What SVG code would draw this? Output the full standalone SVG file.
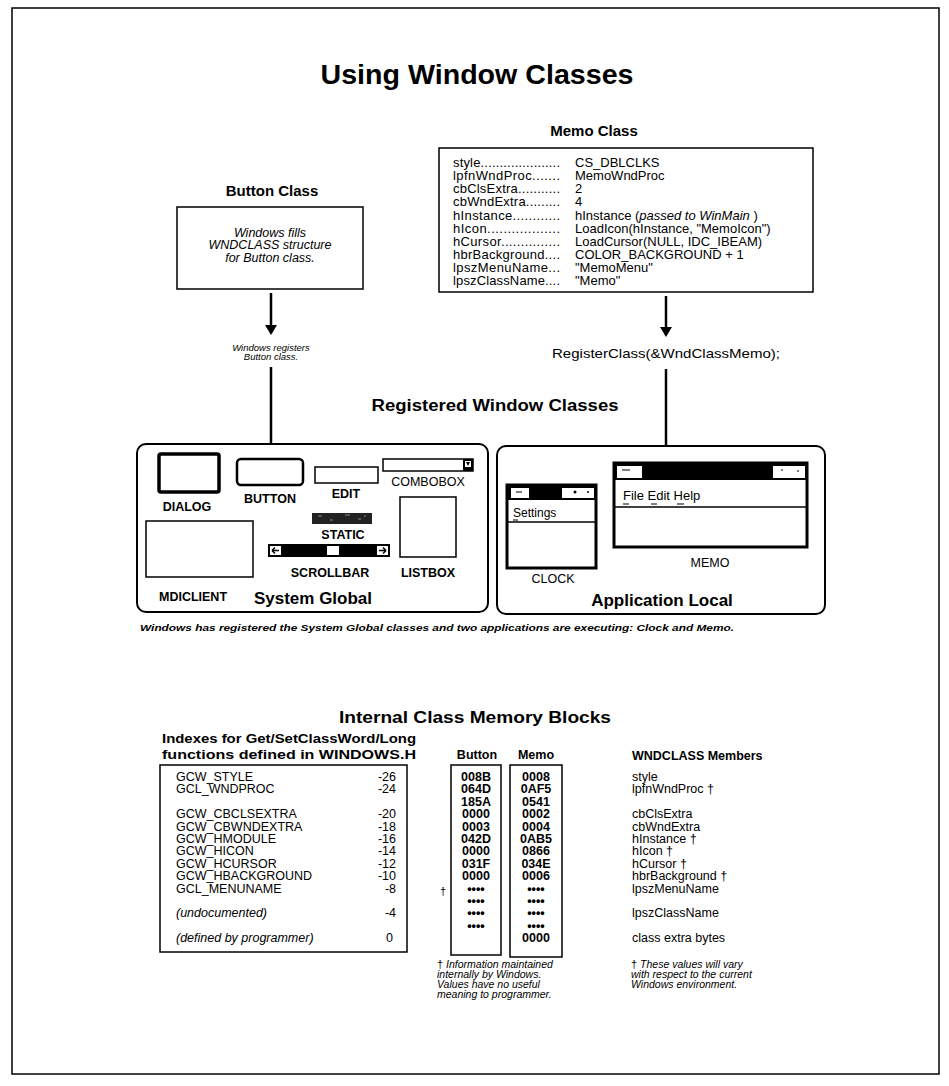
<svg xmlns="http://www.w3.org/2000/svg" width="949" height="1086" viewBox="0 0 949 1086">
<style>
text{font-family:"Liberation Sans",Arial,sans-serif;fill:#000}
.b{font-weight:bold}
.i{font-style:italic}
.c{text-anchor:middle}
.e{text-anchor:end}
.box{fill:#fff;stroke:#000;stroke-width:1.5}
.panel{fill:#fff;stroke:#000;stroke-width:2}
.conn{stroke:#000;stroke-width:2.5;fill:none;marker-end:url(#ah)}
.mb{font-size:13px}
.tb{font-size:12.5px}
.lbl{font-size:12.5px}
.fn{font-size:10.5px;font-style:italic}
</style>
<defs>
<marker id="ah" markerWidth="12" markerHeight="12" refX="8" refY="6" orient="auto" markerUnits="userSpaceOnUse">
<path d="M0,0 L10,6 L0,12 z" fill="#000"/>
</marker>
</defs>
<rect x="12" y="8" width="927" height="1066" fill="#fff" stroke="#000" stroke-width="1.5"/>
<text class="b c" x="477" y="84" font-size="27" textLength="313" lengthAdjust="spacingAndGlyphs">Using  Window  Classes</text>

<g id="button-class">
<text class="b c" x="272" y="196" font-size="15">Button  Class</text>
<rect class="box" x="177" y="207" width="186" height="82"/>
<text class="i c" x="270" y="237" font-size="12.5">Windows fills</text>
<text class="i c" x="270" y="249" font-size="12.5">WNDCLASS structure</text>
<text class="i c" x="270" y="262" font-size="12.5">for Button class.</text>
</g>

<g id="memo-class">
<text class="b c" x="594" y="136" font-size="15">Memo  Class</text>
<rect class="box" x="439" y="148" width="374" height="144"/>
<g class="mb">
<text x="453" y="167" textLength="107" lengthAdjust="spacing">style.....................</text>
<text x="453" y="180" textLength="107" lengthAdjust="spacing">lpfnWndProc.......</text>
<text x="453" y="193" textLength="107" lengthAdjust="spacing">cbClsExtra...........</text>
<text x="453" y="206" textLength="107" lengthAdjust="spacing">cbWndExtra.........</text>
<text x="453" y="220" textLength="107" lengthAdjust="spacing">hInstance............</text>
<text x="453" y="233" textLength="107" lengthAdjust="spacing">hIcon..................</text>
<text x="453" y="246" textLength="107" lengthAdjust="spacing">hCursor...............</text>
<text x="453" y="259" textLength="107" lengthAdjust="spacing">hbrBackground....</text>
<text x="453" y="272" textLength="107" lengthAdjust="spacing">lpszMenuName...</text>
<text x="453" y="285" textLength="107" lengthAdjust="spacing">lpszClassName....</text>
<text x="575" y="167">CS_DBLCLKS</text>
<text x="575" y="180">MemoWndProc</text>
<text x="575" y="193">2</text>
<text x="575" y="206">4</text>
<text x="575" y="220">hInstance  (<tspan font-style="italic">passed to WinMain</tspan> )</text>
<text x="575" y="233">LoadIcon(hInstance,  "MemoIcon")</text>
<text x="575" y="246">LoadCursor(NULL,  IDC_IBEAM)</text>
<text x="575" y="259">COLOR_BACKGROUND  +  1</text>
<text x="575" y="272">"MemoMenu"</text>
<text x="575" y="285">"Memo"</text>
</g>
</g>

<g id="connectors">
<line class="conn" x1="271" y1="293" x2="271" y2="333"/>
<line class="conn" x1="271" y1="367" x2="271" y2="454"/>
<line class="conn" x1="666" y1="296" x2="666" y2="335"/>
<line class="conn" x1="666" y1="369" x2="666" y2="455"/>
</g>

<g id="labels-mid">
<text class="i c" x="271" y="351" font-size="9.5">Windows registers</text>
<text class="i c" x="271" y="360" font-size="9.5">Button class.</text>
<text class="c" x="666" y="358" font-size="13" textLength="228" lengthAdjust="spacingAndGlyphs">RegisterClass(&amp;WndClassMemo);</text>
<text class="b c" x="495" y="411" font-size="16" textLength="247" lengthAdjust="spacingAndGlyphs">Registered  Window  Classes</text>
</g>

<g id="system-global">
<rect class="panel" x="137" y="444" width="351" height="168" rx="9"/>
<rect x="159" y="454" width="60" height="38" rx="2" fill="#fff" stroke="#000" stroke-width="3.5"/>
<text class="b c lbl" x="187" y="511">DIALOG</text>
<rect x="237" y="459" width="66" height="26" rx="4" fill="#fff" stroke="#000" stroke-width="2.5"/>
<text class="b c lbl" x="270" y="503">BUTTON</text>
<rect x="315" y="467" width="63" height="16" fill="#fff" stroke="#000" stroke-width="1.5"/>
<text class="b c lbl" x="346" y="498">EDIT</text>
<rect x="383" y="459" width="90" height="12" fill="#fff" stroke="#000" stroke-width="1.5"/>
<rect x="463" y="459" width="10" height="12" fill="#000"/>
<rect x="465" y="461" width="6" height="6" fill="#fff"/>
<path d="M466,462 L470,462 L468,466 z" fill="#000"/>
<text class="c lbl" x="428" y="486">COMBOBOX</text>
<rect x="312" y="513" width="60" height="11" fill="#222"/>
<path d="M318,516 h4 M330,520 h3 M345,515 h5 M358,519 h3 M364,516 h2" stroke="#888" stroke-width="1"/>
<text class="b c lbl" x="343" y="539">STATIC</text>
<rect x="400" y="497" width="56" height="60" fill="#fff" stroke="#000" stroke-width="1.5"/>
<text class="b c lbl" x="428" y="577">LISTBOX</text>
<rect x="146" y="521" width="107" height="56" fill="#fff" stroke="#000" stroke-width="1.5"/>
<text class="b c lbl" x="193" y="601">MDICLIENT</text>
<rect x="268" y="544" width="122" height="13" fill="#000"/>
<rect x="270" y="546" width="11" height="9" fill="#fff"/>
<path d="M279,550.5 h-7 M272,550.5 l3,-3 M272,550.5 l3,3" stroke="#000" stroke-width="1.5" fill="none"/>
<rect x="377" y="546" width="11" height="9" fill="#fff"/>
<path d="M379,550.5 h7 M386,550.5 l-3,-3 M386,550.5 l-3,3" stroke="#000" stroke-width="1.5" fill="none"/>
<rect x="327" y="546" width="12" height="9" fill="#fff"/>
<text class="b c lbl" x="330" y="577">SCROLLBAR</text>
<text class="b c" x="313" y="604" font-size="17">System  Global</text>
</g>

<g id="application-local">
<rect class="panel" x="497" y="446" width="328" height="168" rx="9"/>
<rect x="507" y="485" width="89" height="83" fill="#fff" stroke="#000" stroke-width="3"/>
<rect x="507" y="485" width="89" height="15" fill="#000"/>
<rect x="511" y="488" width="18" height="10" fill="#fff"/>
<path d="M516,492 h6" stroke="#000" stroke-width="1"/>
<rect x="562" y="488" width="32" height="10" fill="#fff"/>
<circle cx="575" cy="492" r="1.5" fill="#000"/><circle cx="588" cy="492" r="1" fill="#000"/>
<text x="513" y="517" font-size="12">Settings</text>
<path d="M513,520 h5" stroke="#000" stroke-width="1"/>
<line x1="507" y1="522" x2="596" y2="522" stroke="#000" stroke-width="1.5"/>
<text class="c lbl" x="553" y="583">CLOCK</text>
<rect x="614" y="463" width="193" height="84" fill="#fff" stroke="#000" stroke-width="3"/>
<rect x="614" y="463" width="193" height="17" fill="#000"/>
<rect x="617" y="466" width="25" height="12" fill="#fff"/>
<path d="M622,470 h8" stroke="#000" stroke-width="1"/>
<rect x="773" y="466" width="32" height="12" fill="#fff"/>
<path d="M781,470 h2 M797,471 h2" stroke="#000" stroke-width="1"/>
<text x="623" y="500" font-size="13">File  Edit  Help</text>
<path d="M623,504 h6 M651,504 h6 M677,504 h7" stroke="#000" stroke-width="1"/>
<line x1="614" y1="507" x2="807" y2="507" stroke="#000" stroke-width="1.5"/>
<text class="c lbl" x="710" y="567">MEMO</text>
<text class="b c" x="662" y="606" font-size="17">Application  Local</text>
</g>

<text class="b i" x="140" y="631" font-size="9.5" textLength="594" lengthAdjust="spacingAndGlyphs">Windows has registered the System Global classes and two applications are executing: Clock and Memo.</text>

<text class="b c" x="475" y="723" font-size="16" textLength="272" lengthAdjust="spacingAndGlyphs">Internal  Class  Memory  Blocks</text>

<g id="indexes">
<text class="b" x="162" y="743" font-size="13" textLength="254" lengthAdjust="spacingAndGlyphs">Indexes  for  Get/SetClassWord/Long</text>
<text class="b" x="162" y="759" font-size="13" textLength="254" lengthAdjust="spacingAndGlyphs">functions  defined  in  WINDOWS.H</text>
<rect class="box" x="160" y="765" width="247" height="187"/>
<g class="tb">
<text x="176" y="781">GCW_STYLE</text><text class="e" x="396" y="781">-26</text>
<text x="176" y="793.4">GCL_WNDPROC</text><text class="e" x="396" y="793.4">-24</text>
<text x="176" y="818.2">GCW_CBCLSEXTRA</text><text class="e" x="396" y="818.2">-20</text>
<text x="176" y="830.6">GCW_CBWNDEXTRA</text><text class="e" x="396" y="830.6">-18</text>
<text x="176" y="843">GCW_HMODULE</text><text class="e" x="396" y="843">-16</text>
<text x="176" y="855.4">GCW_HICON</text><text class="e" x="396" y="855.4">-14</text>
<text x="176" y="867.8">GCW_HCURSOR</text><text class="e" x="396" y="867.8">-12</text>
<text x="176" y="880.2">GCW_HBACKGROUND</text><text class="e" x="396" y="880.2">-10</text>
<text x="176" y="892.6">GCL_MENUNAME</text><text class="e" x="396" y="892.6">-8</text>
<text class="i" x="176" y="917.4">(undocumented)</text><text class="e" x="396" y="917.4">-4</text>
<text class="i" x="176" y="942.2">(defined by programmer)</text><text class="e" x="393" y="942.2">0</text>
</g>
</g>

<g id="button-block">
<text class="b c" x="477" y="759" font-size="12.5">Button</text>
<rect class="box" x="451" y="765" width="50" height="190"/>
<g class="b c tb">
<text x="476" y="781">008B</text>
<text x="476" y="793.4">064D</text>
<text x="476" y="805.8">185A</text>
<text x="476" y="818.2">0000</text>
<text x="476" y="830.6">0003</text>
<text x="476" y="843">042D</text>
<text x="476" y="855.4">0000</text>
<text x="476" y="867.8">031F</text>
<text x="476" y="880.2">0000</text>
<text x="476" y="892.6">••••</text>
<text x="476" y="905">••••</text>
<text x="476" y="917.4">••••</text>
<text x="476" y="929.8">••••</text>
</g>
<text x="440" y="895" font-size="11">†</text>
</g>

<g id="memo-block">
<text class="b c" x="536" y="759" font-size="12.5">Memo</text>
<rect class="box" x="510" y="765" width="52" height="192"/>
<g class="b c tb">
<text x="536" y="781">0008</text>
<text x="536" y="793.4">0AF5</text>
<text x="536" y="805.8">0541</text>
<text x="536" y="818.2">0002</text>
<text x="536" y="830.6">0004</text>
<text x="536" y="843">0AB5</text>
<text x="536" y="855.4">0866</text>
<text x="536" y="867.8">034E</text>
<text x="536" y="880.2">0006</text>
<text x="536" y="892.6">••••</text>
<text x="536" y="905">••••</text>
<text x="536" y="917.4">••••</text>
<text x="536" y="929.8">••••</text>
<text x="536" y="942.2">0000</text>
</g>
</g>

<g id="wndclass-members">
<text class="b" x="632" y="760" font-size="12.5">WNDCLASS  Members</text>
<g class="tb">
<text x="632" y="781">style</text>
<text x="632" y="793.4">lpfnWndProc †</text>
<text x="632" y="818.2">cbClsExtra</text>
<text x="632" y="830.6">cbWndExtra</text>
<text x="632" y="843">hInstance †</text>
<text x="632" y="855.4">hIcon †</text>
<text x="632" y="867.8">hCursor  †</text>
<text x="632" y="880.2">hbrBackground †</text>
<text x="632" y="892.6">lpszMenuName</text>
<text x="632" y="917.4">lpszClassName</text>
<text x="632" y="942.2">class  extra  bytes</text>
</g>
</g>

<g id="footnotes">
<text class="fn" x="437" y="968"><tspan font-style="normal" font-size="11">†</tspan> Information maintained</text>
<text class="fn" x="437" y="978">internally by Windows.</text>
<text class="fn" x="437" y="988">Values have no useful</text>
<text class="fn" x="437" y="998">meaning to programmer.</text>
<text class="fn" x="631" y="968"><tspan font-style="normal" font-size="11">†</tspan> These values will vary</text>
<text class="fn" x="631" y="978">with respect to the current</text>
<text class="fn" x="631" y="988">Windows environment.</text>
</g>
</svg>
